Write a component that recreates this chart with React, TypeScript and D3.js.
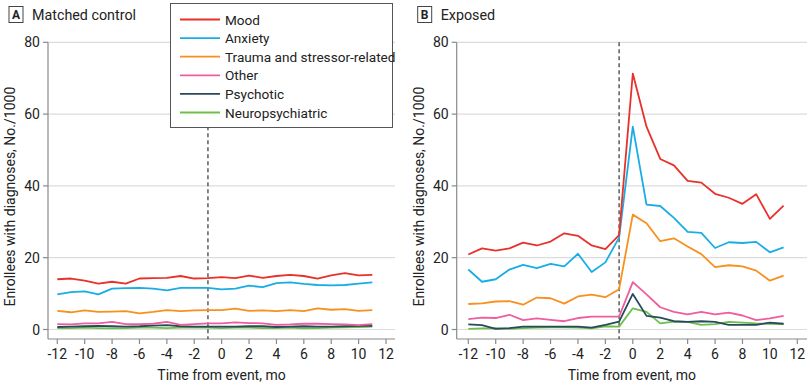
import React from "react";
import * as d3 from "d3";

const months = d3.range(-12, 12);

const seriesNames = ["Mood", "Anxiety", "Trauma and stressor-related", "Other", "Psychotic", "Neuropsychiatric"];
const seriesColors = ["#e8312a", "#19ade6", "#f7901e", "#ef5d9f", "#274b5b", "#6dbf4b"];

const controlMood = [14.0, 14.2, 13.6, 12.8, 13.3, 12.8, 14.2, 14.3, 14.4, 14.9, 14.2, 14.3, 14.6, 14.3, 15.0, 14.4, 14.9, 15.2, 14.9, 14.2, 15.1, 15.7, 15.1, 15.2];
const controlAnxiety = [9.8, 10.4, 10.6, 9.8, 11.4, 11.5, 11.6, 11.4, 10.9, 11.6, 11.6, 11.6, 11.2, 11.4, 12.2, 11.8, 12.9, 13.1, 12.7, 12.4, 12.3, 12.4, 12.8, 13.1];
const controlTrauma = [5.2, 4.8, 5.3, 4.9, 5.0, 5.1, 4.5, 4.9, 5.4, 5.1, 5.3, 5.4, 5.4, 5.8, 5.2, 5.3, 5.1, 5.4, 5.1, 5.9, 5.5, 5.7, 5.2, 5.4];
const controlOther = [1.5, 1.4, 1.7, 1.7, 2.1, 1.5, 1.5, 1.6, 2.1, 1.3, 1.5, 1.7, 1.7, 2.0, 1.8, 1.7, 1.3, 1.4, 1.6, 1.6, 1.5, 1.4, 1.2, 1.5];
const controlPsychotic = [0.7, 0.8, 0.9, 1.0, 0.9, 0.8, 0.9, 1.1, 1.2, 0.9, 0.8, 0.8, 0.8, 0.8, 0.9, 0.9, 0.7, 0.8, 0.9, 0.8, 0.8, 0.9, 1.0, 1.0];
const controlNeuro = [0.4, 0.4, 0.5, 0.4, 0.3, 0.4, 0.5, 0.5, 0.4, 0.5, 0.6, 0.5, 0.4, 0.5, 0.5, 0.4, 0.4, 0.5, 0.3, 0.4, 0.5, 0.6, 0.7, 0.8];

const exposedMood = [20.9, 22.6, 22.0, 22.6, 24.2, 23.4, 24.5, 26.8, 26.1, 23.4, 22.4, 26.3, 71.3, 56.5, 47.5, 45.7, 41.4, 40.9, 37.8, 36.7, 35.0, 37.7, 30.8, 34.5];
const exposedAnxiety = [16.7, 13.3, 14.0, 16.7, 18.0, 17.1, 18.3, 17.6, 21.1, 16.0, 18.7, 25.6, 56.5, 34.8, 34.4, 31.1, 27.2, 26.9, 22.7, 24.3, 24.1, 24.4, 21.5, 22.9];
const exposedTrauma = [7.1, 7.3, 7.8, 7.9, 6.9, 8.9, 8.7, 7.2, 9.2, 9.7, 9.0, 11.2, 32.0, 29.6, 24.6, 25.4, 23.1, 21.0, 17.4, 17.9, 17.6, 16.4, 13.6, 15.0];
const exposedOther = [2.9, 3.3, 3.2, 4.1, 2.6, 3.1, 2.7, 2.3, 3.2, 3.6, 3.6, 3.6, 13.2, 9.8, 6.2, 4.9, 4.2, 4.9, 4.2, 4.7, 3.9, 2.6, 3.1, 3.8];
const exposedPsychotic = [1.4, 1.2, 0.2, 0.4, 0.8, 0.8, 0.8, 0.8, 0.8, 0.5, 1.3, 2.2, 9.9, 3.8, 3.3, 2.3, 2.1, 2.3, 2.1, 1.3, 1.3, 1.3, 1.9, 1.6];
const exposedNeuro = [0.2, 0.3, 0.4, 0.2, 0.4, 0.5, 0.6, 0.6, 0.5, 0.3, 0.9, 0.8, 5.9, 4.9, 1.7, 2.2, 2.1, 1.3, 1.5, 2.1, 1.9, 1.7, 1.6, 1.5];

const xTicks = [-12, -10, -8, -6, -4, -2, 0, 2, 4, 6, 8, 10, 12];
const yTicks = [0, 20, 40, 60, 80];
const eventMonth = -1;

const FONT = "Roboto, 'Noto Sans', sans-serif";

type PanelProps = {
  letter: string;
  title: string;
  series: number[][];
  axisLeft: number;
  axisRight: number;
  xAt: [number, number];
  showLegend: boolean;
};

const yScale = d3.scaleLinear().domain([0, 80]).range([329.5, 42.3]);
const axisY = 339;

function Panel({ letter, title, series, axisLeft, axisRight, xAt, showLegend }: PanelProps) {
  const x = d3.scaleLinear().domain([-12, 12]).range(xAt);
  const line = d3
    .line<number>()
    .x((_, i) => x(months[i]))
    .y((d) => yScale(d));
  const boxX = axisLeft - 39;
  if (showLegend) {
    return (
      <g>
        <rect x={170.5} y={3.5} width={222} height={124} fill="#fff" stroke="#555" strokeWidth={1} />
        {seriesNames.map((n, i) => (
          <g key={n}>
            <line x1={180} x2={220} y1={19.5 + i * 18.6} y2={19.5 + i * 18.6} stroke={seriesColors[i]} strokeWidth={1.8} />
            <text x={225} y={24.5 + i * 18.6} fontSize={13.6} fill="#222" fontFamily={FONT}>
              {n}
            </text>
          </g>
        ))}
      </g>
    );
  }
  return (
    <g>
      <rect x={boxX} y={6.5} width={14} height={16} fill="#fff" stroke="#444" strokeWidth={1} />
      <text x={boxX + 7} y={19} fontSize={12} fontWeight="bold" textAnchor="middle" fill="#222" fontFamily={FONT}>
        {letter}
      </text>
      <text x={boxX + 23} y={19.5} fontSize={14.3} fill="#222" fontFamily={FONT}>
        {title}
      </text>
      {yTicks.map((t) => (
        <line key={"g" + t} x1={axisLeft} x2={axisRight} y1={yScale(t)} y2={yScale(t)} stroke="#dcdcdc" strokeWidth={1.2} />
      ))}
      <line x1={axisLeft} x2={axisLeft} y1={yScale(80)} y2={axisY} stroke="#8a8a8a" strokeWidth={1.2} />
      <line x1={axisLeft} x2={axisRight} y1={axisY} y2={axisY} stroke="#8a8a8a" strokeWidth={1.2} />
      {yTicks.map((t) => (
        <g key={"y" + t}>
          <line x1={axisLeft - 5} x2={axisLeft} y1={yScale(t)} y2={yScale(t)} stroke="#8a8a8a" strokeWidth={1.2} />
          <text x={axisLeft - 8} y={yScale(t) + 5} fontSize={14} textAnchor="end" fill="#222" fontFamily={FONT}>
            {t}
          </text>
        </g>
      ))}
      {xTicks.map((t) => (
        <g key={"x" + t}>
          <line x1={x(t)} x2={x(t)} y1={axisY} y2={axisY + 5} stroke="#8a8a8a" strokeWidth={1.2} />
          <text x={x(t)} y={axisY + 20} fontSize={14} textAnchor="middle" fill="#222" fontFamily={FONT}>
            {t < 0 ? "-" + Math.abs(t) : t}
          </text>
        </g>
      ))}
      <text x={(axisLeft + axisRight) / 2} y={380} fontSize={14} textAnchor="middle" fill="#222" fontFamily={FONT}>
        Time from event, mo
      </text>
      <text
        transform={`translate(${axisLeft - 33},${(yScale(80) + axisY) / 2 + 6}) rotate(-90)`}
        fontSize={14}
        textAnchor="middle"
        fill="#222"
        fontFamily={FONT}
      >
        Enrollees with diagnoses, No./1000
      </text>
      <line
        x1={x(eventMonth)}
        x2={x(eventMonth)}
        y1={yScale(80)}
        y2={axisY}
        stroke="#333"
        strokeWidth={1.2}
        strokeDasharray="4,3"
      />
      {series
        .map((s, i) => ({ s, i }))
        .reverse()
        .map(({ s, i }) => (
          <path key={"s" + i} d={line(s) || ""} fill="none" stroke={seriesColors[i]} strokeWidth={1.8} strokeLinejoin="round" />
        ))}
    </g>
  );
}

export default function App() {
  const control = [controlMood, controlAnxiety, controlTrauma, controlOther, controlPsychotic, controlNeuro];
  const exposed = [exposedMood, exposedAnxiety, exposedTrauma, exposedOther, exposedPsychotic, exposedNeuro];
  return (
    <svg width={810} height={385} style={{ position: "absolute", left: 0, top: 0, background: "#fff" }}>
      <rect width={810} height={385} fill="#fff" />
      <Panel letter="A" title="Matched control" series={control} axisLeft={48} axisRight={395} xAt={[57.3, 386]} showLegend={false} />
      <Panel letter="B" title="Exposed" series={exposed} axisLeft={456.7} axisRight={807} xAt={[468.3, 797.3]} showLegend={false} />
      <Panel letter="A" title="" series={[]} axisLeft={48} axisRight={395} xAt={[57.3, 386]} showLegend={true} />
    </svg>
  );
}
